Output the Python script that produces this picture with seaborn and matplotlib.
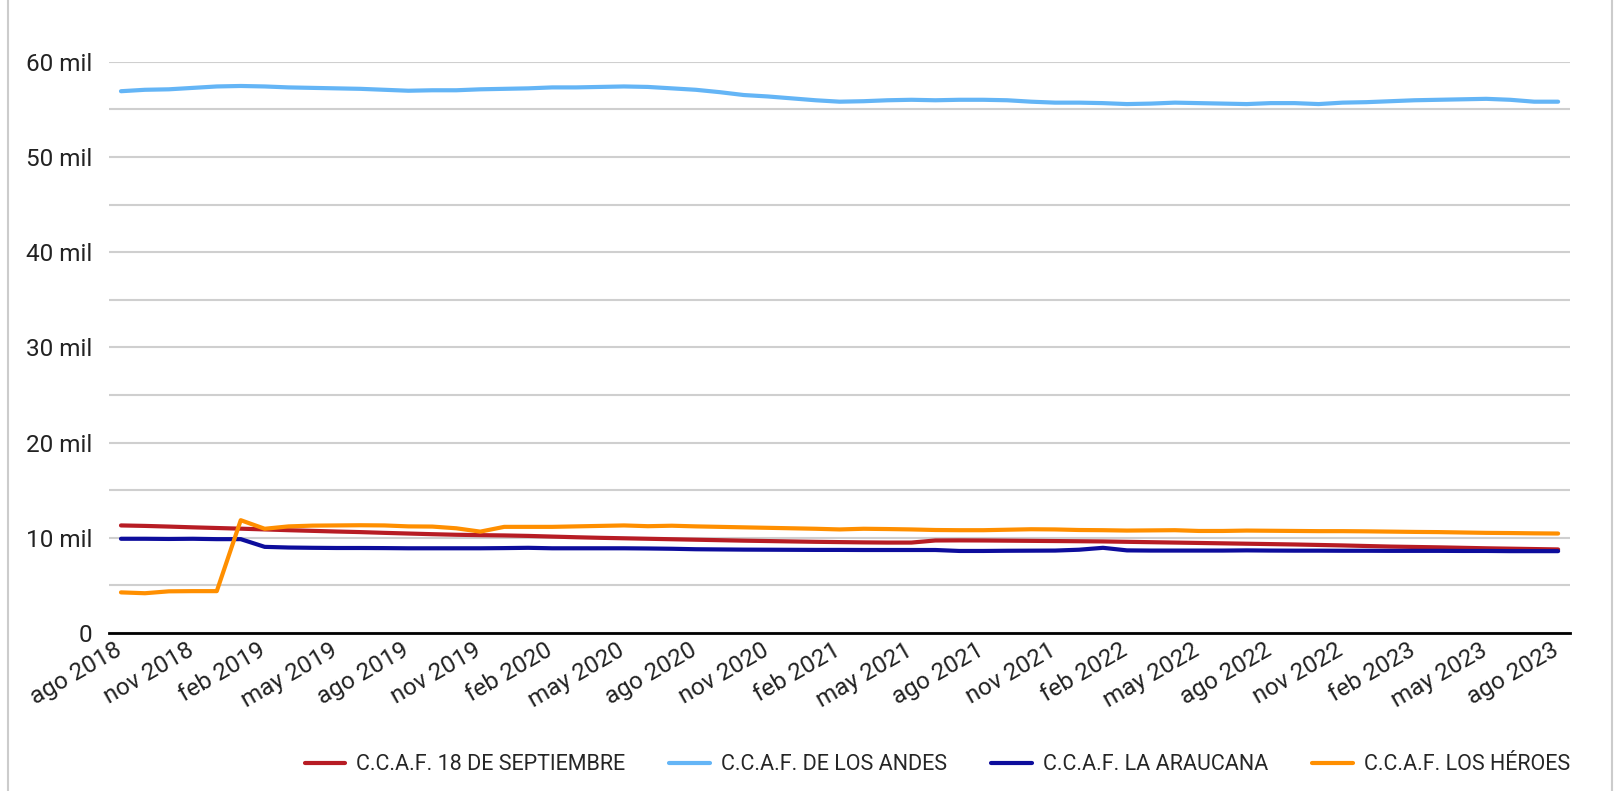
import numpy as np
import pandas as pd
import matplotlib
matplotlib.use('Agg')
import matplotlib.pyplot as plt
import matplotlib.transforms as mtransforms
import seaborn as sns
from matplotlib.lines import Line2D

# monthly series, ago 2018 .. ago 2023 (thousands of affiliates)
months = ['ene', 'feb', 'mar', 'abr', 'may', 'jun', 'jul', 'ago', 'sep', 'oct', 'nov', 'dic']
series_names = ['C.C.A.F. 18 DE SEPTIEMBRE', 'C.C.A.F. DE LOS ANDES',
                'C.C.A.F. LA ARAUCANA', 'C.C.A.F. LOS HÉROES']

septiembre = [11.3, 11.25, 11.18, 11.1, 11.03, 10.96, 10.88, 10.8, 10.73, 10.66,
              10.6, 10.52, 10.45, 10.38, 10.32, 10.28, 10.25, 10.2, 10.13, 10.06,
              10.0, 9.95, 9.9, 9.85, 9.8, 9.75, 9.7, 9.66, 9.62, 9.58,
              9.55, 9.52, 9.5, 9.5, 9.72, 9.73, 9.72, 9.7, 9.68, 9.66,
              9.64, 9.62, 9.58, 9.54, 9.5, 9.46, 9.42, 9.38, 9.34, 9.3,
              9.25, 9.2, 9.14, 9.08, 9.04, 9.0, 8.95, 8.9, 8.86, 8.82, 8.78]
andes = [56.9, 57.05, 57.1, 57.25, 57.4, 57.45, 57.4, 57.3, 57.25, 57.2,
         57.15, 57.05, 56.95, 57.0, 57.0, 57.1, 57.15, 57.2, 57.3, 57.3,
         57.35, 57.4, 57.35, 57.2, 57.05, 56.8, 56.5, 56.35, 56.15, 55.95,
         55.8, 55.85, 55.95, 56.0, 55.95, 56.0, 56.0, 55.95, 55.8, 55.7,
         55.7, 55.65, 55.55, 55.6, 55.7, 55.65, 55.6, 55.55, 55.65, 55.65,
         55.55, 55.7, 55.75, 55.85, 55.95, 56.0, 56.05, 56.1, 56.0, 55.8, 55.8]
araucana = [9.9, 9.9, 9.88, 9.9, 9.86, 9.86, 9.05, 8.98, 8.95, 8.93,
            8.93, 8.92, 8.9, 8.9, 8.9, 8.9, 8.92, 8.95, 8.9, 8.9,
            8.9, 8.9, 8.88, 8.85, 8.8, 8.78, 8.76, 8.75, 8.74, 8.73,
            8.73, 8.72, 8.72, 8.72, 8.72, 8.62, 8.62, 8.64, 8.65, 8.66,
            8.75, 8.95, 8.68, 8.66, 8.66, 8.66, 8.66, 8.68, 8.66, 8.65,
            8.65, 8.64, 8.64, 8.63, 8.63, 8.63, 8.62, 8.62, 8.6, 8.6, 8.6]
heroes = [4.27, 4.18, 4.38, 4.4, 4.4, 11.85, 10.95, 11.2, 11.28, 11.3,
          11.32, 11.3, 11.2, 11.18, 11.0, 10.65, 11.15, 11.15, 11.15, 11.2,
          11.25, 11.3, 11.22, 11.27, 11.2, 11.15, 11.1, 11.05, 11.0, 10.95,
          10.88, 10.95, 10.92, 10.88, 10.82, 10.8, 10.8, 10.85, 10.9, 10.88,
          10.82, 10.8, 10.76, 10.78, 10.8, 10.72, 10.72, 10.76, 10.74, 10.72,
          10.7, 10.7, 10.68, 10.65, 10.62, 10.6, 10.56, 10.52, 10.5, 10.47, 10.45]

colors = ['#b71c24', '#64b5f6', '#0d0d9c', '#ff8f00']

# labels "ago 2018", ...
labels = []
for k in range(len(andes)):
    m = 7 + k
    labels.append(f"{months[m % 12]} {2018 + m // 12}")

frames = []
for name, vals in zip(series_names, [septiembre, andes, araucana, heroes]):
    frames.append(pd.DataFrame({'idx': np.arange(len(vals)), 'valor': vals, 'serie': name}))
df = pd.concat(frames, ignore_index=True)

sns.set_style('white')
plt.rcParams['font.family'] = ['Roboto', 'DejaVu Sans']

fig = plt.figure(figsize=(16.22, 7.91), dpi=100)
ax = fig.add_axes([0.0672, 0.1997, 0.9008, 0.7223])

sns.lineplot(data=df, x='idx', y='valor', hue='serie', palette=colors,
             linewidth=3, ax=ax, legend=False)

ax.set_xlim(-0.5, len(andes) - 0.5)
ax.set_ylim(0, 60)
ax.set_yticks(np.arange(0, 61, 5))
ax.set_yticklabels(['0' if v == 0 else (f'{v} mil' if v % 10 == 0 else '')
                    for v in range(0, 61, 5)], fontsize=17.5, color='#222222')
ax.yaxis.grid(True, color='#cfcfcf', linewidth=1.5)
ax.set_axisbelow(True)
ax.tick_params(axis='y', length=0, pad=12)

xt = np.arange(0, len(andes), 3)
ax.set_xticks(xt)
ax.set_xticklabels([labels[i] for i in xt], rotation=30, ha='right',
                   rotation_mode='anchor', fontsize=17.5, color='#222222')
ax.tick_params(axis='x', length=0, pad=4)
# nudge the slanted labels a little left so they end at their tick
shift = mtransforms.ScaledTranslation(-7 / 100, 0, fig.dpi_scale_trans)
for lab in ax.get_xticklabels():
    lab.set_transform(lab.get_transform() + shift)

for s in ['top', 'right', 'left']:
    ax.spines[s].set_visible(False)
ax.spines['bottom'].set_color('black')
ax.spines['bottom'].set_linewidth(2)
ax.set_xlabel('')
ax.set_ylabel('')

handles = [Line2D([0], [0], color=c, lw=3) for c in colors]
fig.legend(handles, series_names, loc='center right', bbox_to_anchor=(0.968, 0.033),
           ncol=4, frameon=False, fontsize=15.5, handlelength=1.9, columnspacing=2.05,
           handletextpad=0.5, borderpad=0, borderaxespad=0)

# thin frame on the page
fig.add_artist(Line2D([8 / 1622, 8 / 1622], [0, 1], color='#cccccc', lw=1.5,
                      transform=fig.transFigure))
fig.add_artist(Line2D([1612 / 1622, 1612 / 1622], [0, 1], color='#cccccc', lw=1.5,
                      transform=fig.transFigure))

fig.savefig('out.png', dpi=100, facecolor='white')
